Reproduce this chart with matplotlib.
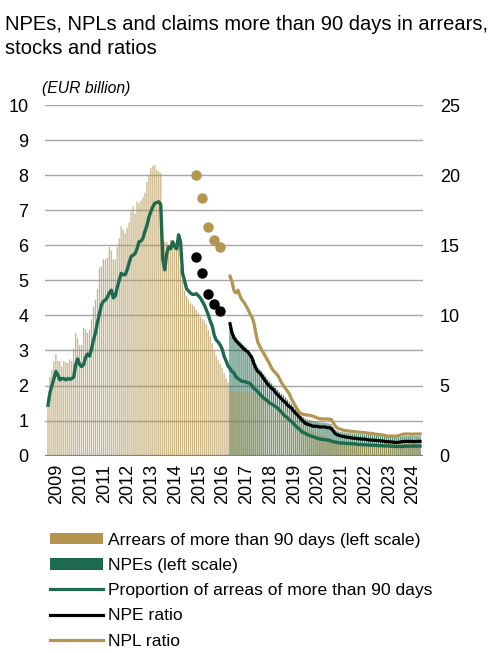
import matplotlib
matplotlib.use("Agg")
import matplotlib.pyplot as plt
from matplotlib.patches import Patch
from matplotlib.lines import Line2D
import numpy as np

plt.rcParams['font.family'] = ['Liberation Sans', 'DejaVu Sans']

# ---------------- data (monthly, index 0 = Jan 2009) ----------------
years = ["2009", "2010", "2011", "2012", "2013", "2014", "2015", "2016",
         "2017", "2018", "2019", "2020", "2021", "2022", "2023", "2024"]

# Arrears of more than 90 days, EUR bn (left scale), Jan 2009 .. Sep 2024
arrears = [
    1.6, 2.25, 2.45, 2.7, 2.9, 2.7, 2.7, 2.55, 2.7, 2.65, 2.65, 2.75,
    2.7, 3.05, 3.5, 3.35, 3.15, 3.15, 3.65, 3.6, 3.5, 3.6, 3.9, 4.25,
    4.45, 4.75, 5.35, 5.4, 5.6, 5.6, 5.65, 5.95, 5.85, 5.6, 5.6, 5.95,
    6.2, 6.55, 6.45, 6.35, 6.5, 6.65, 6.95, 7.1, 6.9, 7.25, 7.2, 7.28,
    7.38, 7.5, 7.8, 8.0, 8.2, 8.26, 8.29, 8.14, 8.1, 8.05, 6.15, 6.1,
    6.1, 6.0, 6.15, 6.0, 6.1, 6.0, 6.15, 5.35, 5.0, 4.7, 4.55, 4.45,
    4.35, 4.3, 4.25, 4.15, 4.06, 3.96, 3.9, 3.85, 3.75, 3.58, 3.4, 3.2,
    3.0, 2.85, 2.72, 2.62, 2.5, 2.35, 2.2, 2.08, 1.88, 1.85, 1.84, 1.83,
    1.83, 1.82, 1.82, 1.81, 1.8, 1.8, 1.79, 1.78, 1.76, 1.75, 1.74, 1.72,
    1.7, 1.68, 1.66, 1.63, 1.6, 1.58, 1.55, 1.52, 1.48, 1.43, 1.38, 1.33,
    1.28, 1.23, 1.18, 1.12, 1.07, 1.02, 0.98, 0.94, 0.9, 0.86, 0.82, 0.78,
    0.75, 0.72, 0.69, 0.66, 0.63, 0.61, 0.59, 0.57, 0.55, 0.53, 0.52, 0.5,
    0.47, 0.44, 0.42, 0.41, 0.4, 0.4, 0.39, 0.39, 0.38, 0.38, 0.37, 0.37,
    0.37, 0.36, 0.36, 0.36, 0.35, 0.35, 0.35, 0.35, 0.34, 0.34, 0.34, 0.34,
    0.34, 0.33, 0.33, 0.33, 0.33, 0.33, 0.33, 0.33, 0.33, 0.34, 0.34, 0.34,
    0.34, 0.34, 0.34, 0.34, 0.34, 0.34, 0.34, 0.34, 0.34,
]

# NPEs, EUR bn (left scale), from index 92 (Sep 2016)
npe_start = 92
npes = [
    3.82, 3.6, 3.45, 3.38, 3.3, 3.25, 3.2, 3.15, 3.1, 3.02, 2.95, 2.88,
    2.75, 2.62, 2.52, 2.46, 2.4, 2.33, 2.26, 2.18, 2.12, 2.06, 2.0, 1.94,
    1.88, 1.82, 1.76, 1.72, 1.66, 1.6, 1.54, 1.48, 1.4, 1.33, 1.27, 1.2,
    1.14, 1.1, 1.06, 1.03, 1.01, 1.0, 0.98, 0.97, 0.96, 0.95, 0.95, 0.94,
    0.94, 0.93, 0.92, 0.9, 0.82, 0.74, 0.71, 0.69, 0.68, 0.67, 0.66, 0.65,
    0.64, 0.64, 0.63, 0.63, 0.62, 0.62, 0.61, 0.61, 0.6, 0.6, 0.59, 0.59,
    0.58, 0.58, 0.57, 0.57, 0.56, 0.56, 0.55, 0.55, 0.54, 0.54, 0.53, 0.53,
    0.53, 0.53, 0.54, 0.55, 0.56, 0.56, 0.56, 0.56, 0.56, 0.56, 0.56, 0.56,
    0.56,
]

# Proportion of arrears of more than 90 days, % (right scale), from Jan 2009
prop_arrears = [
    3.6, 4.5, 5.0, 5.5, 6.0, 5.75, 5.4, 5.5, 5.5, 5.4, 5.5, 5.45,
    5.5, 5.6, 6.5, 6.9, 6.5, 6.35, 6.5, 7.0, 7.25, 7.1, 7.6, 8.25,
    8.75, 9.5, 10.1, 10.75, 11.0, 11.1, 11.3, 11.6, 11.8, 11.25, 11.4, 12.0,
    12.5, 13.0, 12.9, 12.9, 13.25, 13.75, 14.2, 14.3, 14.4, 14.75, 15.25, 15.3,
    15.5, 16.0, 16.4, 17.0, 17.4, 17.75, 18.0, 18.05, 18.1, 17.9, 14.0, 13.25,
    14.4, 14.9, 14.75, 15.25, 14.9, 14.75, 15.75, 15.25, 13.0, 12.5, 11.9, 11.75,
    11.6, 11.5, 11.5, 11.55, 11.4, 11.25, 11.0, 10.75, 10.4, 10.05, 9.6, 9.25,
    8.6, 8.25, 8.1, 7.9, 7.6, 7.1, 6.75, 6.4, 6.2, 6.0, 5.9, 5.6,
    5.5, 5.4, 5.3, 5.3, 5.25, 5.2, 5.15, 5.0, 4.8, 4.7, 4.55, 4.4,
    4.25, 4.1, 4.0, 3.9, 3.75, 3.7, 3.6, 3.5, 3.4, 3.25, 3.1, 2.95,
    2.8, 2.7, 2.55, 2.45, 2.3, 2.15, 2.0, 1.9, 1.75, 1.65, 1.6, 1.5,
    1.45, 1.4, 1.35, 1.3, 1.25, 1.2, 1.18, 1.15, 1.15, 1.12, 1.1, 1.05,
    1.0, 0.98, 0.95, 0.92, 0.9, 0.9, 0.88, 0.88, 0.87, 0.86, 0.85, 0.84,
    0.82, 0.8, 0.8, 0.78, 0.78, 0.77, 0.76, 0.75, 0.75, 0.74, 0.73, 0.72,
    0.72, 0.71, 0.7, 0.7, 0.69, 0.68, 0.68, 0.67, 0.66, 0.66, 0.65, 0.66,
    0.67, 0.68, 0.68, 0.68, 0.69, 0.68, 0.68, 0.69, 0.69,
]

# NPE ratio, % (right scale), monthly from index 92
npe_ratio = [
    9.4, 8.75, 8.4, 8.2, 8.05, 7.9, 7.75, 7.6, 7.5, 7.4, 7.2, 7.0,
    6.6, 6.25, 6.0, 5.9, 5.7, 5.5, 5.3, 5.1, 4.95, 4.8, 4.7, 4.5,
    4.35, 4.2, 4.05, 3.9, 3.8, 3.6, 3.5, 3.4, 3.2, 3.05, 2.9, 2.75,
    2.6, 2.45, 2.3, 2.25, 2.2, 2.15, 2.1, 2.1, 2.1, 2.05, 2.05, 2.05,
    2.05, 2.0, 2.0, 1.95, 1.8, 1.6, 1.5, 1.45, 1.4, 1.38, 1.35, 1.32,
    1.3, 1.28, 1.25, 1.25, 1.22, 1.2, 1.2, 1.18, 1.18, 1.15, 1.12, 1.12,
    1.1, 1.1, 1.08, 1.08, 1.05, 1.05, 1.02, 1.0, 1.0, 0.98, 0.98, 0.95,
    0.95, 0.95, 0.98, 1.0, 1.02, 1.02, 1.02, 1.02, 1.02, 1.0, 1.02, 1.02,
    1.02,
]

# NPL ratio, % (right scale), monthly from index 92
npl_ratio = [
    12.8, 12.4, 11.75, 11.6, 11.8, 11.4, 11.1, 10.95, 10.7, 10.45, 10.15, 9.9,
    9.5, 8.75, 8.1, 7.8, 7.55, 7.3, 7.05, 6.8, 6.55, 6.25, 6.05, 5.9,
    5.75, 5.5, 5.2, 5.0, 4.8, 4.6, 4.4, 4.05, 3.8, 3.55, 3.3, 3.1,
    3.0, 2.95, 2.92, 2.9, 2.88, 2.85, 2.82, 2.75, 2.7, 2.65, 2.62, 2.62,
    2.62, 2.62, 2.6, 2.6, 2.38, 2.15, 2.0, 1.92, 1.88, 1.82, 1.8, 1.78,
    1.75, 1.75, 1.72, 1.7, 1.7, 1.68, 1.68, 1.65, 1.65, 1.62, 1.6, 1.6,
    1.58, 1.55, 1.52, 1.52, 1.5, 1.48, 1.45, 1.42, 1.4, 1.4, 1.4, 1.4,
    1.4, 1.42, 1.48, 1.52, 1.55, 1.55, 1.55, 1.55, 1.52, 1.55, 1.55, 1.55,
    1.55,
]

# Earlier quarterly observations (dots), % (right scale)
dot_index = [75, 78, 81, 84, 87]
npl_dots = [20.0, 18.4, 16.3, 15.4, 14.9]
npe_dots = [14.2, 13.0, 11.5, 10.8, 10.3]

# ---------------- style ----------------
TAN = '#b39550'
GREEN = '#1d6a4e'
GRID = '#a6a6a6'

fig = plt.figure(figsize=(4.92, 6.53), dpi=100)
ax = fig.add_axes([45/492, 1-455.7/653, 378/492, 350.7/653])
ax2 = ax.twinx()

x_all = np.arange(len(arrears))
x_npe = np.arange(npe_start, npe_start + len(npes))

ax.set_ylim(0, 10)
ax.set_yticks(range(0, 11))
ax.set_xlim(-1.5, 189.5)
ax.grid(axis='y', color=GRID, linewidth=1.0, zorder=0)
ax.set_axisbelow(True)

b1 = ax.bar(x_npe, npes, width=0.62, color=GREEN, alpha=0.8, linewidth=0, zorder=2)
b2 = ax.bar(x_all, arrears, width=0.62, color=TAN, alpha=0.72, linewidth=0, zorder=3)
for bars in (b1, b2):
    for r in bars:
        r.set_snap(False)

ax2.set_ylim(0, 25)
ax2.set_yticks(range(0, 26, 5))
ax2.plot(np.arange(len(prop_arrears)), prop_arrears, color=GREEN, lw=2.4, zorder=4)
ax2.plot(np.arange(npe_start, npe_start + len(npl_ratio)), npl_ratio, color=TAN, lw=2.3, zorder=4)
ax2.plot(np.arange(npe_start, npe_start + len(npe_ratio)), npe_ratio, color='black', lw=2.3, zorder=5)
ax2.plot(dot_index, npl_dots, 'o', color=TAN, ms=6.5, zorder=5)
ax2.plot(dot_index, npe_dots, 'o', color='black', ms=6.5, zorder=5)

for a in (ax, ax2):
    for s in a.spines.values():
        s.set_visible(False)
ax.axhline(0, color='#7f7f7f', lw=1.6, zorder=6)

ax.set_xticks([12 * k + 4.5 for k in range(len(years))])
ax.set_xticklabels(years, rotation=90, fontsize=13)
ax.tick_params(axis='x', length=0, pad=6)
ax.tick_params(axis='y', length=0, pad=12, labelsize=13)
ax2.tick_params(axis='y', length=0, pad=12, labelsize=13)

fig.text(5/492, 1-15/653, "NPEs, NPLs and claims more than 90 days in arrears,\nstocks and ratios",
         ha='left', va='top', fontsize=14.5, linespacing=1.34)
fig.text(42/492, 1-88/653, "(EUR billion)", ha='left', va='center', fontsize=11.3, style='italic')

handles = [
    Patch(facecolor=TAN, edgecolor='none'),
    Patch(facecolor=GREEN, edgecolor='none'),
    Line2D([], [], color=GREEN, lw=2.3),
    Line2D([], [], color='black', lw=2.3),
    Line2D([], [], color=TAN, lw=2.3),
]
labels = ["Arrears of more than 90 days (left scale)", "NPEs (left scale)",
          "Proportion of arreas of more than 90 days", "NPE ratio", "NPL ratio"]
fig.legend(handles, labels, loc='upper left', bbox_to_anchor=(50/492, 1-533/653),
           frameon=False, fontsize=12.6, handlelength=3.0, handleheight=0.6,
           handletextpad=0.3, labelspacing=0.58, borderpad=0, borderaxespad=0)

fig.savefig("out.png", dpi=100)
